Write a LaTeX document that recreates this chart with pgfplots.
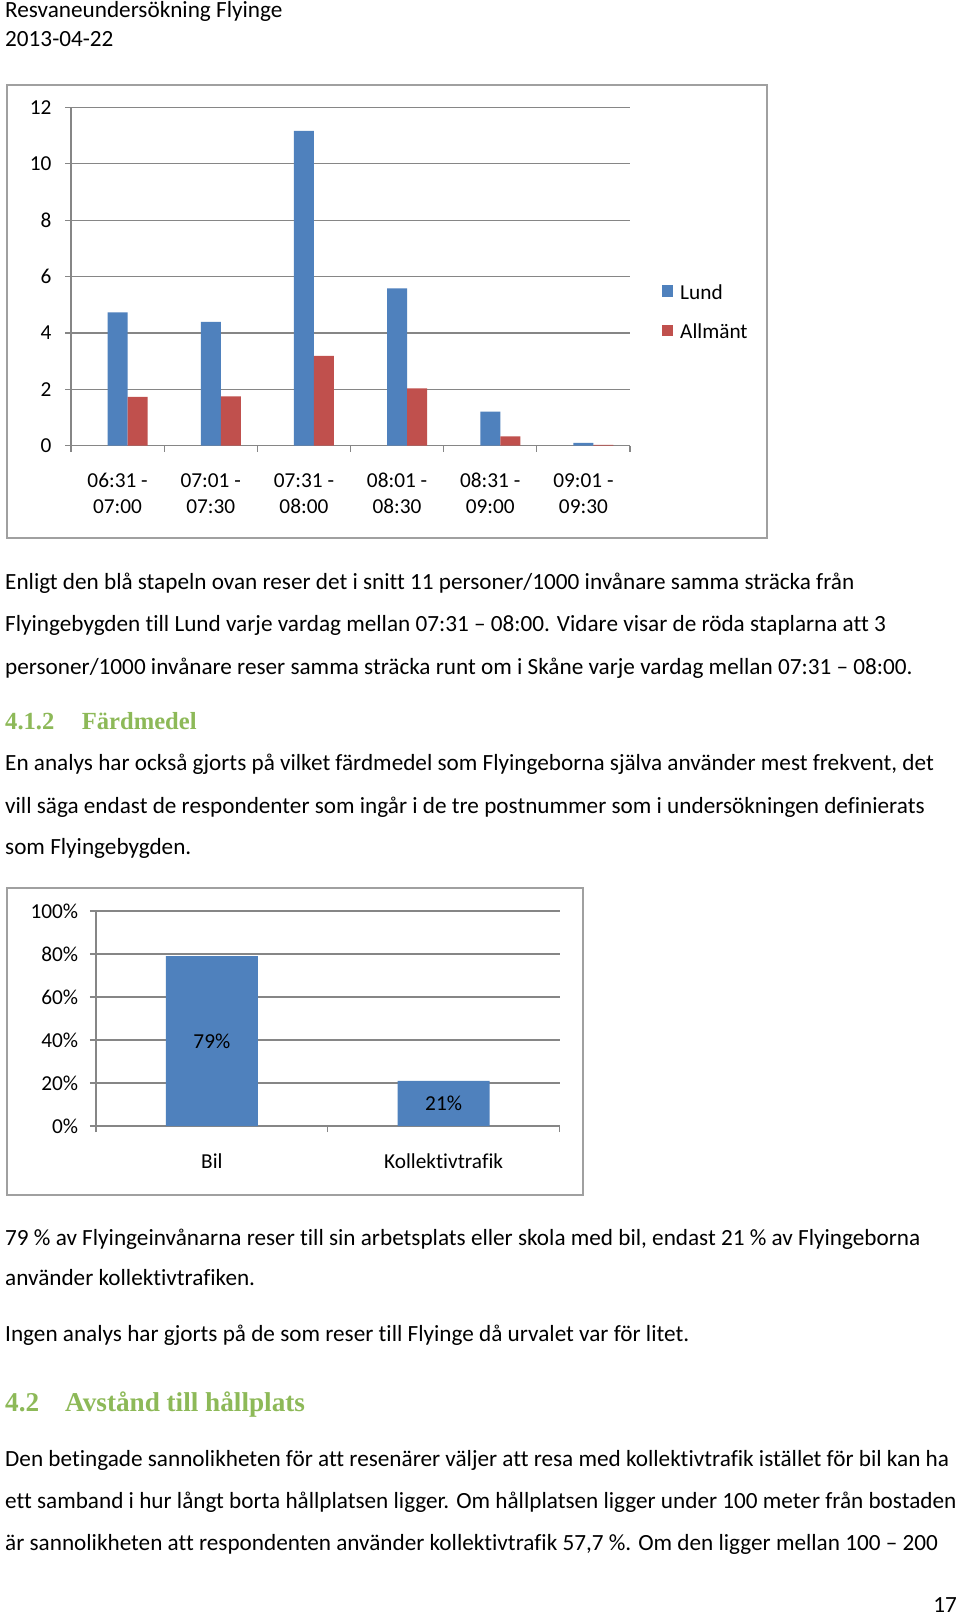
\documentclass[border=0pt]{standalone}
\usepackage{fontspec}
\setmainfont{Carlito}[Ligatures=NoCommon]
\newfontfamily\headfont{Liberation Serif}
\usepackage{pgfplots}
\pgfplotsset{compat=1.18}
\definecolor{xlblue}{HTML}{4F81BD}
\definecolor{xlred}{HTML}{C0504D}
\definecolor{xlgreen}{HTML}{8DB958}
\definecolor{axgray}{HTML}{868686}
\definecolor{framegray}{HTML}{A0A0A0}
\newcommand\bodyfont{\fontsize{23.2}{28}\selectfont}
\newcommand\chartfont{\fontsize{21.3}{26}\selectfont}
\begin{document}
\begin{tikzpicture}[x=1pt,y=1pt]
\path[use as bounding box, fill=white] (0,0) rectangle (960,-1619);
\tikzset{txt/.style={anchor=base west, inner sep=0pt, font=\bodyfont}}
% header
\node[txt] at (5,-18) {Resvaneundersökning Flyinge};
\node[txt] at (5,-46.5) {2013-04-22};
% chart 1 frame
\draw[framegray, line width=2pt] (7.3,-84.6) rectangle (766.7,-538.3);
\begin{axis}[
  at={(71pt,-445.7pt)}, anchor=south west, scale only axis,
  width=559pt, height=338.3pt,
  ymin=0, ymax=12, ytick={0,2,4,6,8,10,12},
  yticklabels={0,2,4,6,8,10,12},
  xmin=-0.5, xmax=5.5,
  xtick={-0.5,0.5,1.5,2.5,3.5,4.5,5.5}, xticklabels={},
  extra x ticks={0,1,2,3,4,5},
  extra x tick labels={{06:31 -\\07:00},{07:01 -\\07:30},{07:31 -\\08:00},{08:01 -\\08:30},{08:31 -\\09:00},{09:01 -\\09:30}},
  extra x tick style={major tick length=0pt, grid=none,
    xticklabel style={anchor=north, inner sep=0pt, yshift=-27.3pt, align=center, font=\chartfont}},
  axis x line=bottom, axis y line=left,
  axis line style={axgray, line width=1.2pt, -},
  tick align=outside, major tick length=6pt,
  tick style={axgray, line width=1.2pt},
  ymajorgrids, grid style={axgray, line width=1.2pt},
  yticklabel style={anchor=east, inner sep=0pt, xshift=-13.3pt, font=\chartfont},
  legend style={draw=none, fill=none, inner sep=0pt, at={(rel axis cs:1.0567,0.476)}, anchor=north west,
    font=\chartfont, row sep=23pt, nodes={inner sep=0pt},
    /tikz/every odd column/.append style={column sep=6.7pt}},
  legend cell align=left,
  legend image code/.code={\path[#1] (0pt,-4pt) rectangle (11.6pt,7.6pt);},
]
\addplot[ybar, bar width=20pt, bar shift=0pt, fill=xlblue, draw=none]
  coordinates {(0,4.73) (1,4.39) (2,11.17) (3,5.58) (4,1.21) (5,0.10)};
\addplot[ybar, bar width=20pt, bar shift=20pt, fill=xlred, draw=none]
  coordinates {(0,1.73) (1,1.75) (2,3.19) (3,2.03) (4,0.33) (5,0.03)};
\legend{Lund,Allmänt}
\end{axis}
% text 1
\node[txt] at (5,-589.3) {Enligt den blå stapeln ovan reser det i snitt 11 personer/1000 invånare samma sträcka från};
\node[txt] at (5,-631) {Flyingebygden till Lund varje vardag mellan 07:31 – 08:00. Vidare visar de röda staplarna att 3};
\node[txt] at (5,-674) {personer/1000 invånare reser samma sträcka runt om i Skåne varje vardag mellan 07:31 – 08:00.};
\node[anchor=base west, inner sep=0pt, text=xlgreen, font=\headfont\bfseries\fontsize{24.6}{28}\selectfont] at (5,-729.3) {4.1.2};
\node[anchor=base west, inner sep=0pt, text=xlgreen, font=\headfont\bfseries\fontsize{24.6}{28}\selectfont] at (81.7,-729.3) {Färdmedel};
\node[txt] at (5,-770.3) {En analys har också gjorts på vilket färdmedel som Flyingeborna själva använder mest frekvent, det};
\node[txt] at (5,-813) {vill säga endast de respondenter som ingår i de tre postnummer som i undersökningen definierats};
\node[txt] at (5,-854) {som Flyingebygden.};
% chart 2 frame
\draw[framegray, line width=2pt] (7.2,-888.3) rectangle (583,-1195);
\begin{axis}[
  at={(96pt,-1126pt)}, anchor=south west, scale only axis,
  width=463.5pt, height=215pt,
  ymin=0, ymax=100, ytick={0,20,40,60,80,100},
  yticklabels={0\%,20\%,40\%,60\%,80\%,100\%},
  xmin=-0.5, xmax=1.5,
  xtick={-0.5,0.5,1.5}, xticklabels={},
  extra x ticks={0,1},
  extra x tick labels={Bil,Kollektivtrafik},
  extra x tick style={major tick length=0pt, grid=none,
    xticklabel style={anchor=north, inner sep=0pt, yshift=-27.3pt, font=\chartfont}},
  axis x line=bottom, axis y line=left,
  axis line style={axgray, line width=1.2pt, -},
  tick align=outside, major tick length=6pt,
  tick style={axgray, line width=1.2pt},
  ymajorgrids, grid style={axgray, line width=1.2pt},
  yticklabel style={anchor=east, inner sep=0pt, xshift=-11.6pt, font=\chartfont},
]
\addplot[ybar, bar width=92pt, bar shift=0pt, fill=xlblue, draw=none]
  coordinates {(0,79) (1,21)};
\addplot[draw=none, mark=none, nodes near coords, point meta=explicit symbolic,
  every node near coord/.append style={anchor=center, inner sep=0pt, font=\chartfont, text=black}]
  coordinates {(0,39.5) [79\%] (1,10.5) [21\%]};
\end{axis}
% text 2
\node[txt] at (5,-1245) {79 \% av Flyingeinvånarna reser till sin arbetsplats eller skola med bil, endast 21 \% av Flyingeborna};
\node[txt] at (5,-1285.5) {använder kollektivtrafiken.};
\node[txt] at (5,-1341) {Ingen analys har gjorts på de som reser till Flyinge då urvalet var för litet.};
\node[anchor=base west, inner sep=0pt, text=xlgreen, font=\headfont\bfseries\fontsize{27.2}{30}\selectfont] at (5,-1411) {4.2};
\node[anchor=base west, inner sep=0pt, text=xlgreen, font=\headfont\bfseries\fontsize{27.2}{30}\selectfont] at (65,-1411) {Avstånd till hållplats};
\node[txt] at (5,-1466) {Den betingade sannolikheten för att resenärer väljer att resa med kollektivtrafik istället för bil kan ha};
\node[txt] at (5,-1508) {ett samband i hur långt borta hållplatsen ligger. Om hållplatsen ligger under 100 meter från bostaden};
\node[txt] at (5,-1550.8) {är sannolikheten att respondenten använder kollektivtrafik 57,7 \%. Om den ligger mellan 100 – 200};
\node[anchor=base east, inner sep=0pt, font=\bodyfont] at (957,-1612) {17};
\end{tikzpicture}
\end{document}
